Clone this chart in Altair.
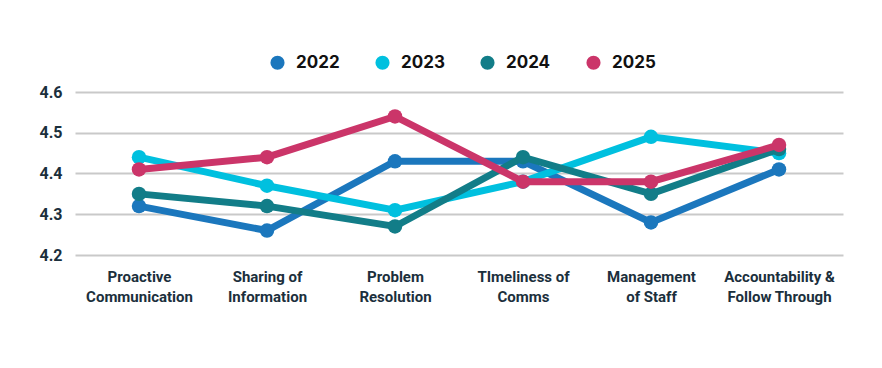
import altair as alt
import pandas as pd

categories = [
    "Proactive\nCommunication",
    "Sharing of\nInformation",
    "Problem\nResolution",
    "TImeliness of\nComms",
    "Management\nof Staff",
    "Accountability &\nFollow Through",
]
years = ["2022", "2023", "2024", "2025"]
values_2022 = [4.32, 4.26, 4.43, 4.43, 4.28, 4.41]
values_2023 = [4.44, 4.37, 4.31, 4.38, 4.49, 4.45]
values_2024 = [4.35, 4.32, 4.27, 4.44, 4.35, 4.46]
values_2025 = [4.41, 4.44, 4.54, 4.38, 4.38, 4.47]
colors = ["#1b77bd", "#00c0df", "#127d88", "#cb3569"]
y_ticks = [4.2, 4.3, 4.4, 4.5, 4.6]

series = [values_2022, values_2023, values_2024, values_2025]
rows = []
for yi, (yr, vals) in enumerate(zip(years, series)):
    for ci, (cat, v) in enumerate(zip(categories, vals)):
        rows.append({"category": cat, "year": yr, "value": v, "order": yi})
df = pd.DataFrame(rows)

label_color = "#1b2f3c"

x_enc = alt.X(
    "category:N",
    sort=categories,
    scale=alt.Scale(paddingInner=0, paddingOuter=0),
    axis=alt.Axis(
        title=None,
        labelAngle=0,
        labelExpr="split(datum.label, '\\n')",
        labelFont="Roboto",
        labelFontWeight="bold",
        labelFontSize=15,
        labelColor=label_color,
        labelLineHeight=20,
        labelPadding=14,
        ticks=False,
        domain=False,
        grid=False,
        labelBaseline="top",
    ),
)
y_enc = alt.Y(
    "value:Q",
    scale=alt.Scale(domain=[4.2, 4.6], nice=False, zero=False),
    axis=alt.Axis(
        title=None,
        values=y_ticks,
        format=".1f",
        labelFont="Roboto",
        labelFontWeight="bold",
        labelFontSize=16,
        labelColor=label_color,
        labelPadding=13,
        ticks=False,
        domain=False,
        grid=True,
        gridColor="#c9c9c9",
        gridWidth=2,
    ),
)
color_enc = alt.Color(
    "year:N",
    scale=alt.Scale(domain=years, range=colors),
    legend=alt.Legend(
        title=None,
        orient="none",
        direction="horizontal",
        legendX=194,
        legendY=-38,
        symbolType="circle",
        symbolSize=200,
        symbolOpacity=1,
        symbolStrokeWidth=0,
        labelFont="Inter",
        labelFontWeight="bold",
        labelFontSize=17,
        labelColor="#111111",
        labelOffset=10,
        columnPadding=34,
    ),
)

layers = []
for yr in years:
    sub = alt.Chart(df[df.year == yr])
    layers.append(
        sub.mark_line(strokeWidth=7).encode(x=x_enc, y=y_enc, color=color_enc)
    )
    layers.append(
        sub.mark_circle(size=210, opacity=1).encode(x=x_enc, y=y_enc, color=color_enc)
    )

chart = (
    alt.layer(*layers)
    .properties(
        width=768,
        height=163,
        autosize=alt.AutoSizeParams(type="none"),
        padding={"left": 67, "top": 84, "right": 31, "bottom": 105},
        background="white",
    )
    .configure_view(strokeWidth=0)
)

chart.save("out.html", embed_options={"renderer": "svg", "actions": False})
